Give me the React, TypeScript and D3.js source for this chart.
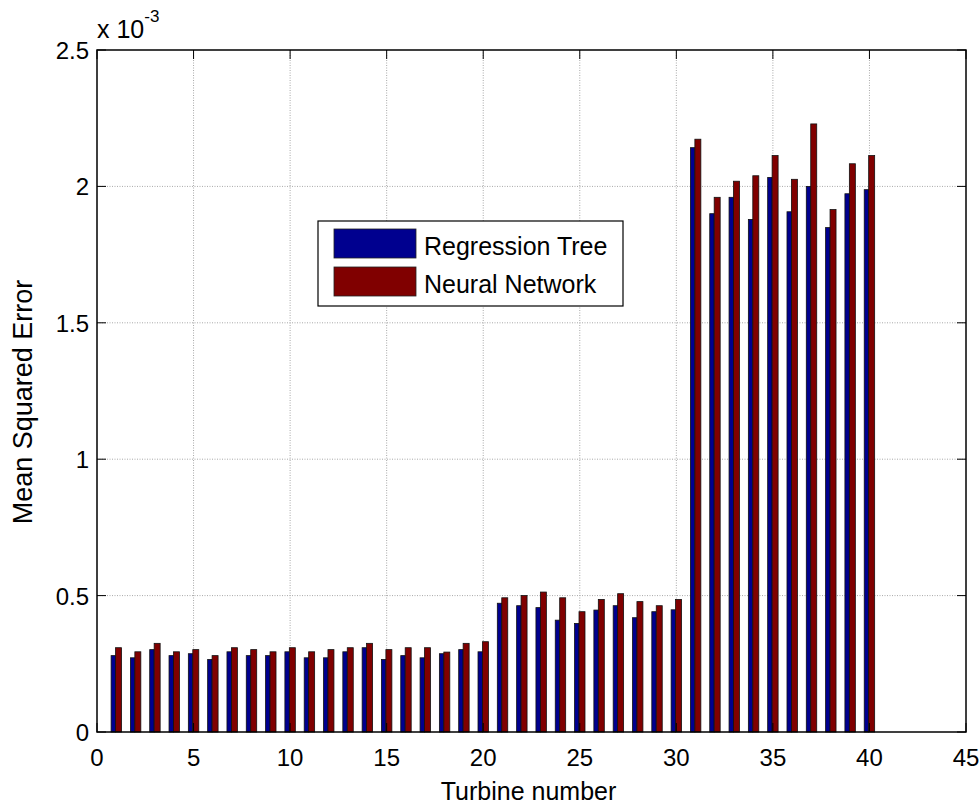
import { useEffect, useRef } from "react";
import * as d3 from "d3";

// values in units of 1e-3
const turbines = [
  1, 2, 3, 4, 5, 6, 7, 8, 9, 10, 11, 12, 13, 14, 15, 16, 17, 18, 19, 20,
  21, 22, 23, 24, 25, 26, 27, 28, 29, 30, 31, 32, 33, 34, 35, 36, 37, 38, 39, 40,
];
const regressionTree = [
  0.28, 0.272, 0.302, 0.28, 0.287, 0.266, 0.294, 0.28, 0.28, 0.294,
  0.272, 0.272, 0.294, 0.309, 0.266, 0.28, 0.272, 0.287, 0.302, 0.294,
  0.472, 0.463, 0.456, 0.41, 0.398, 0.447, 0.463, 0.419, 0.441, 0.448,
  2.142, 1.9, 1.96, 1.879, 2.033, 1.907, 2.0, 1.849, 1.973, 1.988,
];
const neuralNetwork = [
  0.309, 0.294, 0.325, 0.294, 0.302, 0.28, 0.309, 0.302, 0.294, 0.309,
  0.294, 0.302, 0.309, 0.325, 0.302, 0.309, 0.309, 0.293, 0.325, 0.331,
  0.492, 0.5, 0.513, 0.492, 0.441, 0.486, 0.507, 0.478, 0.463, 0.486,
  2.173, 1.96, 2.019, 2.039, 2.113, 2.026, 2.229, 1.915, 2.083, 2.113,
];
const xTicks = [0, 5, 10, 15, 20, 25, 30, 35, 40, 45];
const yTicks = [0, 0.5, 1, 1.5, 2, 2.5];
const seriesNames = ["Regression Tree", "Neural Network"];
const colors = ["#00008f", "#800000"];

export default function App() {
  const svgRef = useRef<SVGSVGElement>(null);

  useEffect(() => {
    if (!svgRef.current) return;
    const width = 979;
    const height = 805;
    const margin = { top: 50, right: 13, bottom: 73, left: 97 };
    const innerWidth = width - margin.left - margin.right;
    const innerHeight = height - margin.top - margin.bottom;
    const font = "Arial, 'Liberation Sans', sans-serif";

    const svg = d3.select(svgRef.current);
    svg.selectAll("*").remove();
    svg.attr("width", width).attr("height", height);

    svg.append("rect").attr("width", width).attr("height", height).attr("fill", "white");

    const x = d3.scaleLinear().domain([0, 45]).range([0, innerWidth]);
    const y = d3.scaleLinear().domain([0, 2.5]).range([innerHeight, 0]);

    const g = svg.append("g").attr("transform", `translate(${margin.left},${margin.top})`);

    // grid lines (dotted, MATLAB style)
    g.append("g")
      .selectAll("line")
      .data(xTicks.slice(1, -1))
      .enter()
      .append("line")
      .attr("x1", (d) => x(d))
      .attr("x2", (d) => x(d))
      .attr("y1", 0)
      .attr("y2", innerHeight)
      .attr("stroke", "#a8a8a8")
      .attr("stroke-width", 1)
      .attr("stroke-dasharray", "1,1.5");

    g.append("g")
      .selectAll("line")
      .data(yTicks.slice(1, -1))
      .enter()
      .append("line")
      .attr("x1", 0)
      .attr("x2", innerWidth)
      .attr("y1", (d) => y(d))
      .attr("y2", (d) => y(d))
      .attr("stroke", "#a8a8a8")
      .attr("stroke-width", 1)
      .attr("stroke-dasharray", "1,1.5");

    // grouped bars
    const offsets = [
      [-0.27, -0.04],
      [-0.04, 0.27],
    ];
    [regressionTree, neuralNetwork].forEach((values, s) => {
      g.append("g")
        .selectAll("rect")
        .data(values)
        .enter()
        .append("rect")
        .attr("x", (_, i) => x(turbines[i] + offsets[s][0]))
        .attr("width", x(offsets[s][1]) - x(offsets[s][0]))
        .attr("y", (d) => y(d))
        .attr("height", (d) => innerHeight - y(d))
        .attr("fill", colors[s])
        .attr("stroke", "#111")
        .attr("stroke-width", 0.8);
    });

    // axes box
    g.append("rect")
      .attr("width", innerWidth)
      .attr("height", innerHeight)
      .attr("fill", "none")
      .attr("stroke", "#000")
      .attr("stroke-width", 1.5);

    const tickLen = 9;
    xTicks.forEach((t) => {
      g.append("line")
        .attr("x1", x(t)).attr("x2", x(t))
        .attr("y1", innerHeight).attr("y2", innerHeight - tickLen)
        .attr("stroke", "#000");
      g.append("line")
        .attr("x1", x(t)).attr("x2", x(t))
        .attr("y1", 0).attr("y2", tickLen)
        .attr("stroke", "#000");
      g.append("text")
        .attr("x", x(t))
        .attr("y", innerHeight + 34)
        .attr("text-anchor", "middle")
        .attr("font-family", font)
        .attr("font-size", 24)
        .text(t);
    });
    yTicks.forEach((t) => {
      g.append("line")
        .attr("x1", 0).attr("x2", tickLen)
        .attr("y1", y(t)).attr("y2", y(t))
        .attr("stroke", "#000");
      g.append("line")
        .attr("x1", innerWidth).attr("x2", innerWidth - tickLen)
        .attr("y1", y(t)).attr("y2", y(t))
        .attr("stroke", "#000");
      g.append("text")
        .attr("x", -8)
        .attr("y", y(t) + 9)
        .attr("text-anchor", "end")
        .attr("font-family", font)
        .attr("font-size", 24)
        .text(t);
    });

    // exponent label
    const expo = svg
      .append("text")
      .attr("x", margin.left)
      .attr("y", 38)
      .attr("font-family", font)
      .attr("font-size", 25);
    expo.append("tspan").text("x 10");
    expo.append("tspan").attr("dy", -16).attr("font-size", 17).text("-3");

    // axis labels
    svg.append("text")
      .attr("x", margin.left + innerWidth / 2 - 3)
      .attr("y", 800)
      .attr("text-anchor", "middle")
      .attr("font-family", font)
      .attr("font-size", 25)
      .text("Turbine number");

    svg.append("text")
      .attr("transform", `translate(32,402) rotate(-90)`)
      .attr("text-anchor", "middle")
      .attr("font-family", font)
      .attr("font-size", 27)
      .text("Mean Squared Error");

    // legend
    const legend = svg.append("g").attr("transform", "translate(318,221)");
    legend.append("rect")
      .attr("width", 305)
      .attr("height", 85)
      .attr("fill", "white")
      .attr("stroke", "#000")
      .attr("stroke-width", 1.2);
    seriesNames.forEach((name, i) => {
      legend.append("rect")
        .attr("x", 16)
        .attr("y", 8 + i * 38)
        .attr("width", 82)
        .attr("height", 29)
        .attr("fill", colors[i])
        .attr("stroke", "#222")
        .attr("stroke-width", 0.8);
      legend.append("text")
        .attr("x", 106)
        .attr("y", 34 + i * 38)
        .attr("font-family", font)
        .attr("font-size", 25)
        .text(name);
    });
  }, []);

  return (
    <svg ref={svgRef} style={{ position: "absolute", left: 0, top: 0, display: "block" }} />
  );
}
